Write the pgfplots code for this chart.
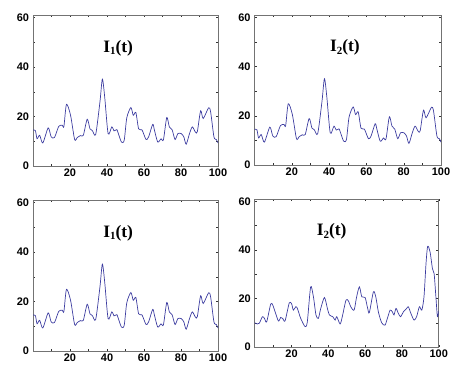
\documentclass[border=0pt]{standalone}
\usepackage{pgfplots}
\pgfplotsset{compat=1.18}
\usepackage{pgfplotstable}
\usepackage{fontspec}
\setmainfont{Liberation Sans}
\newfontfamily\titlefont{Liberation Serif}
\definecolor{curve}{RGB}{60,60,160}
\pgfplotstableread{
x y
0 14.5
1.3 14.3
2.2 11.0
3.6 12.4
5.3 9.3
8.2 15.4
9.8 11.8
11.6 11.5
13.9 16.0
15.8 16.5
16.7 16.0
18.1 24.9
20.3 20.5
22.5 10.7
23.9 11.5
25.7 12.3
27.2 12.4
29.3 18.9
30.8 15.0
32.1 14.3
33.9 12.8
36.2 26.0
37.5 35.1
38.8 27.5
40.6 13.1
42.6 15.8
43.8 14.2
45.3 14.7
46.0 13.4
47.8 9.7
49.3 10.4
50.7 19.5
52.9 23.6
54.2 20.5
55.6 21.6
57.1 15.0
58.9 14.6
61.1 10.7
62.5 11.8
64.7 16.8
65.6 14.6
67.4 9.7
69.2 11.0
70.5 10.6
72.3 19.6
73.7 15.8
75.2 14.6
76.8 10.7
78.3 13.1
80.1 13.1
81.5 11.8
82.8 8.8
84.6 13.1
86.1 15.8
87.7 13.8
88.8 13.8
90.6 22.3
92.0 19.2
94.9 23.5
96.0 21.9
97.8 11.8
99.1 10.7
100 9.3
}\dataA
\pgfplotstableread{
x y
0 10.0
1.4 9.5
2.5 9.8
4.2 12.5
5.3 11.8
6.5 10.4
8.7 17.7
9.8 17.3
11.1 14.5
12.9 10.7
14.1 12.2
15.2 11.8
16.5 10.8
18.8 18.2
20.1 17.7
21.0 15.2
22.3 16.6
23.2 15.9
25.0 11.8
27.4 8.4
28.6 10.4
30.4 24.8
31.9 20.7
33.3 13.2
34.6 11.8
35.9 15.9
37.9 20.4
39.5 15.9
40.6 13.2
42.4 12.5
43.7 11.1
44.6 12.5
46.4 9.5
47.6 12.5
49.6 19.3
50.9 19.0
52.2 16.6
54.0 15.2
55.4 20.7
56.9 24.8
58.2 20.7
60.0 20.4
61.4 15.9
62.3 14.2
64.5 22.7
65.8 20.7
67.2 14.5
69.0 10.0
70.8 9.0
72.1 11.8
73.6 15.2
74.8 14.5
75.7 13.2
76.8 15.9
78.1 13.8
79.3 12.5
80.8 14.5
82.6 15.9
83.5 16.6
84.9 13.8
86.6 11.1
88.0 12.5
89.5 16.6
90.8 15.2
92.0 20.7
93.1 34.4
94.0 41.5
95.3 39.2
96.6 32.3
97.5 30.3
98.4 21.4
99.3 12.5
100 15.0
}\dataB
\pgfplotsset{
  panel/.style={
    scale only axis, anchor=south west,
    xmin=0, xmax=100, ymin=0, ymax=61,
    xtick={10,20,...,100}, xticklabels={,20,,40,,60,,80,,100},
    ytick={0,10,...,60}, yticklabels={0,,20,,40,,60},
    tick align=inside, major tick length=2.5pt,
    tick style={black!80, line width=0.4pt},
    axis line style={black!55, line width=0.5pt},
    ticklabel style={font=\fontsize{11}{13}\selectfont\bfseries},
    xticklabel style={yshift=1pt},
    yticklabel style={xshift=-0.5pt},
    /pgf/number format/assume math mode=true,
    clip=true,
  },
  curveplot/.style={color=curve, line width=0.7pt, smooth, tension=0.45, mark=none},
}
\newcommand{\ttl}[1]{{\titlefont\fontsize{17.5}{20}\selectfont\bfseries I\raisebox{-0.35ex}{\fontsize{11}{11}\selectfont #1}(t)}}
\begin{document}
\begin{tikzpicture}[x=1bp,y=1bp]
\useasboundingbox (0,0) rectangle (463,371);
\begin{axis}[panel, at={(33bp,205bp)}, width=185bp, height=151bp]
\addplot[curveplot] table[x=x,y=y] {\dataA};
\node at (axis cs:46,47.7) {\ttl{1}};
\end{axis}
\begin{axis}[panel, at={(254.5bp,206bp)}, width=186.5bp, height=150bp]
\addplot[curveplot] table[x=x,y=y] {\dataA};
\node at (axis cs:48.5,47.7) {\ttl{2}};
\end{axis}
\begin{axis}[panel, at={(33bp,20bp)}, width=185bp, height=151bp]
\addplot[curveplot] table[x=x,y=y] {\dataA};
\node at (axis cs:46,47.7) {\ttl{1}};
\end{axis}
\begin{axis}[panel, at={(254.7bp,24bp)}, width=184bp, height=148bp]
\addplot[curveplot] table[x=x,y=y] {\dataB};
\node at (axis cs:41.8,47.5) {\ttl{2}};
\end{axis}
\end{tikzpicture}
\end{document}
